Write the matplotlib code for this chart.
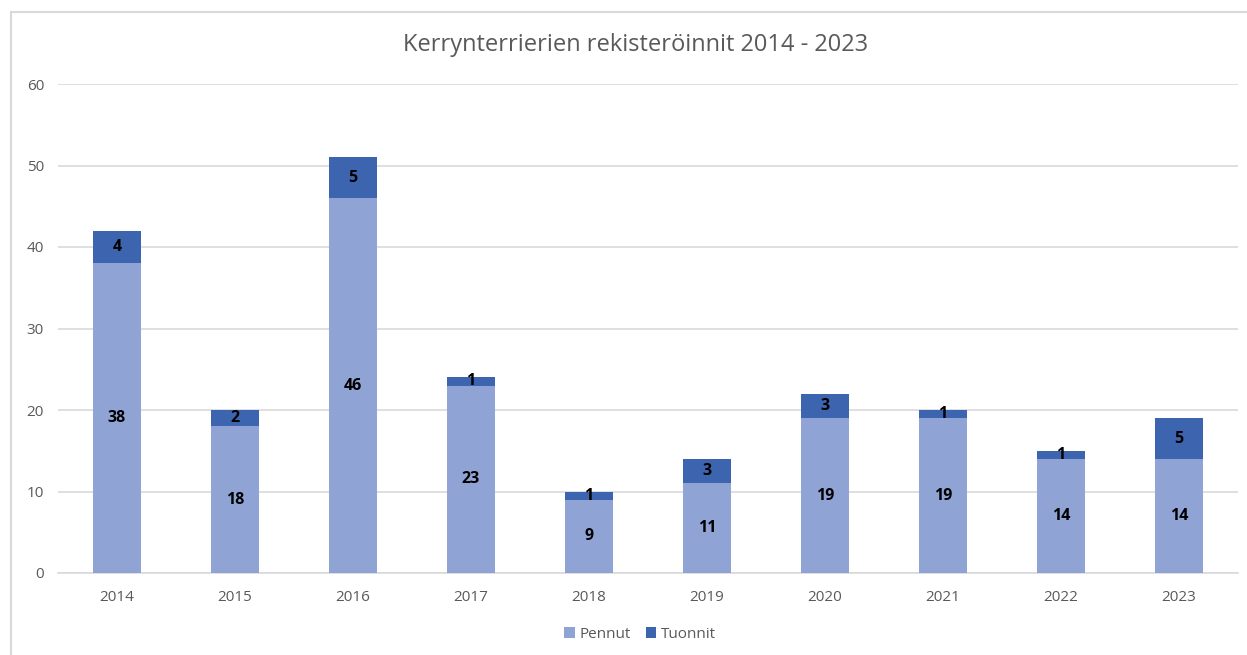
import matplotlib
matplotlib.use("Agg")
import matplotlib.pyplot as plt
from matplotlib.lines import Line2D

years = ["2014", "2015", "2016", "2017", "2018", "2019", "2020", "2021", "2022", "2023"]
pennut = [38, 18, 46, 23, 9, 11, 19, 19, 14, 14]
tuonnit = [4, 2, 5, 1, 1, 3, 3, 1, 1, 5]

plt.rcParams['font.family'] = ['Open Sans', 'DejaVu Sans']

fig = plt.figure(figsize=(12.47, 6.55), dpi=100)
ax = fig.add_axes([58/1247, 1-573/655, (1238-58)/1247, (573-84)/655])

c1 = "#8FA3D5"
c2 = "#3D64AE"
x = list(range(len(years)))
b1 = ax.bar(x, pennut, width=0.4, color=c1, label="Pennut", zorder=3)
b2 = ax.bar(x, tuonnit, width=0.4, bottom=pennut, color=c2, label="Tuonnit", zorder=3)

for i in x:
    ax.text(i, pennut[i] / 2, str(pennut[i]), ha="center", va="center",
            fontsize=11.5, fontweight="bold", color="black", zorder=4)
    ax.text(i, pennut[i] + tuonnit[i] / 2, str(tuonnit[i]), ha="center", va="center",
            fontsize=11.5, fontweight="bold", color="black", zorder=4)

ax.set_xlim(-0.5, len(years) - 0.5)
ax.set_ylim(0, 60)
ax.set_yticks(range(0, 61, 10))
ax.set_xticks(x)
ax.set_xticklabels(years)
ax.grid(axis="y", color="#D9D9D9", linewidth=1.2, zorder=0)
for s in ["top", "right", "left"]:
    ax.spines[s].set_visible(False)
ax.spines["bottom"].set_color("#D9D9D9")
ax.spines["bottom"].set_linewidth(1.2)
ax.tick_params(axis="both", length=0, labelsize=11, colors="#595959", labelcolor="#595959")
ax.tick_params(axis="y", pad=10)
ax.tick_params(axis="x", pad=12)

fig.text(636/1247, 1-45/655, "Kerrynterrierien rekisteröinnit 2014 - 2023", ha="center", va="center",
         fontsize=17, color="#595959")

leg = fig.legend(handles=[b1, b2], labels=["Pennut", "Tuonnit"], loc="center",
                 bbox_to_anchor=(640/1247, 1-634/655), ncol=2, frameon=False,
                 fontsize=11, handlelength=0.7, handleheight=0.7, handletextpad=0.3,
                 columnspacing=1.0)
for t in leg.get_texts():
    t.set_color("#595959")

# chart border (left and top visible)
fig.add_artist(Line2D([11/1247, 11/1247], [0, 1-12/655], color="#D9D9D9", linewidth=1.5, transform=fig.transFigure))
fig.add_artist(Line2D([11/1247, 1], [1-12/655, 1-12/655], color="#D9D9D9", linewidth=1.5, transform=fig.transFigure))

fig.savefig("out.png", dpi=100)
